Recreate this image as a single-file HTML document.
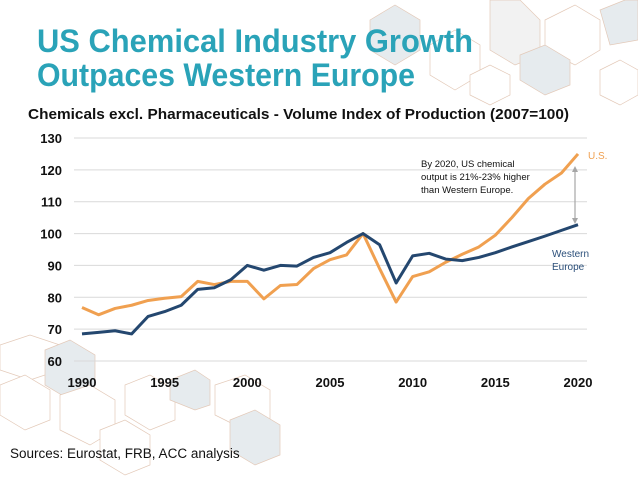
<!DOCTYPE html>
<html><head><meta charset="utf-8"><style>
html,body{margin:0;padding:0;background:#fff;width:638px;height:479px;overflow:hidden}
text{font-family:"Liberation Sans",sans-serif}
</style></head><body>
<svg id="chart" width="638" height="479" viewBox="0 0 638 479" xmlns="http://www.w3.org/2000/svg">
<g id="deco" stroke="#e3c9b8" stroke-width="0.7">
  <polygon points="370,20 395,5 420,20 420,50 395,65 370,50" fill="#e6ebee"/>
  <polygon points="430,45 455,30 480,45 480,75 455,90 430,75" fill="#fff"/>
  <polygon points="490,0 520,0 540,20 540,55 515,65 490,50" fill="#f2f2f2"/>
  <polygon points="545,20 575,5 600,20 600,50 575,65 545,50" fill="#fff"/>
  <polygon points="600,10 625,0 638,0 638,40 610,45" fill="#e6ebee"/>
  <polygon points="520,55 545,45 570,60 570,85 545,95 520,80" fill="#e6ebee"/>
  <polygon points="470,75 490,65 510,75 510,95 490,105 470,95" fill="#fff"/>
  <polygon points="600,70 620,60 638,70 638,95 620,105 600,95" fill="#fff"/>
  <polygon points="0,345 30,335 60,345 60,370 30,380 0,370" fill="#fff"/>
  <polygon points="45,350 70,340 95,355 95,385 70,400 45,385" fill="#e6ebee"/>
  <polygon points="0,385 25,375 50,390 50,420 25,430 0,415" fill="#fff"/>
  <polygon points="60,395 90,385 115,400 115,430 90,445 60,430" fill="#fff"/>
  <polygon points="125,385 150,375 175,390 175,420 150,430 125,415" fill="#fff"/>
  <polygon points="170,380 195,370 210,380 210,405 195,410 170,400" fill="#e6ebee"/>
  <polygon points="215,385 245,375 270,390 270,420 245,430 215,415" fill="#fff"/>
  <polygon points="230,420 255,410 280,425 280,455 255,465 230,450" fill="#e6ebee"/>
  <polygon points="100,430 125,420 150,435 150,465 125,475 100,460" fill="#fff"/>
</g>
<text x="37" y="52" font-size="32" font-weight="bold" fill="#2aa3b8" textLength="436" lengthAdjust="spacingAndGlyphs">US Chemical Industry Growth</text>
<text x="37" y="86" font-size="32" font-weight="bold" fill="#2aa3b8" textLength="378" lengthAdjust="spacingAndGlyphs">Outpaces Western Europe</text>
<text x="28" y="119" font-size="15" font-weight="bold" fill="#111" textLength="541" lengthAdjust="spacingAndGlyphs">Chemicals excl. Pharmaceuticals - Volume Index of Production (2007=100)</text>
<g id="grid"></g>
<g id="yticks"></g>
<g id="xticks"></g>
<g id="series"></g>
<line x1="575" y1="169" x2="575" y2="221" stroke="#a6a6a6" stroke-width="1.2"/>
<polygon points="572,172 575,166 578,172" fill="#a6a6a6"/>
<polygon points="572,218 575,224 578,218" fill="#a6a6a6"/>
<text font-size="9.5" fill="#111"><tspan x="421" y="167">By 2020, US chemical</tspan><tspan x="421" y="180">output is 21%-23% higher</tspan><tspan x="421" y="193">than Western Europe.</tspan></text>
<text x="588" y="159" font-size="10" fill="#f0a050">U.S.</text>
<text font-size="10" fill="#2b4f7a"><tspan x="552" y="257">Western</tspan><tspan x="552" y="270">Europe</tspan></text>
<text x="10" y="458" font-size="13.5" fill="#111">Sources: Eurostat, FRB, ACC analysis</text>
</svg>
<script>
const years=[1990,1991,1992,1993,1994,1995,1996,1997,1998,1999,2000,2001,2002,2003,2004,2005,2006,2007,2008,2009,2010,2011,2012,2013,2014,2015,2016,2017,2018,2019,2020];
const usValues=[76.8,74.5,76.5,77.5,79,79.7,80.2,85,84,85,85,79.5,83.7,84,89,91.8,93.3,100,89,78.5,86.5,88,91,93.5,95.8,99.5,105,111,115.5,119,125];
const weValues=[68.5,69,69.5,68.5,74,75.5,77.5,82.5,83,85.5,90,88.5,90,89.8,92.5,94,97.2,100,96.5,84.5,93,93.8,92,91.5,92.5,94,95.8,97.5,99.2,101,102.8];
const yTicks=[60,70,80,90,100,110,120,130];
const xTicks=[1990,1995,2000,2005,2010,2015,2020];
const NS='http://www.w3.org/2000/svg';
const X=v=>82+(v-1990)*(578-82)/30;
const Y=v=>361-(v-60)*(361-138)/70;
function mk(tag,attrs,parent){const e=document.createElementNS(NS,tag);for(const k in attrs)e.setAttribute(k,attrs[k]);parent.appendChild(e);return e;}
const grid=document.getElementById('grid'),yt=document.getElementById('yticks'),xt=document.getElementById('xticks'),ser=document.getElementById('series');
yTicks.forEach(v=>{
  const l=mk('line',{x1:74,x2:587,y1:Y(v),y2:Y(v),stroke:'#d9d9d9','stroke-width':1},grid);
  
  
  const t=mk('text',{x:62,y:Y(v)+5,'text-anchor':'end','font-size':13,'font-weight':'bold',fill:'#111'},yt);
  t.textContent=v;
  
  
});
xTicks.forEach(v=>{
  const t=mk('text',{x:X(v),y:387,'text-anchor':'middle','font-size':13,'font-weight':'bold',fill:'#111'},xt);
  t.textContent=v;
  
  
});
function line(vals,color,name){
  const p=mk('polyline',{points:vals.map((v,i)=>X(years[i])+','+Y(v)).join(' '),fill:'none',stroke:color,'stroke-width':3,'stroke-linejoin':'round'},ser);
  
  
}
line(usValues,'#f0a050','us-line');
line(weValues,'#24476f','western-europe-line');
</script>
</body></html>
